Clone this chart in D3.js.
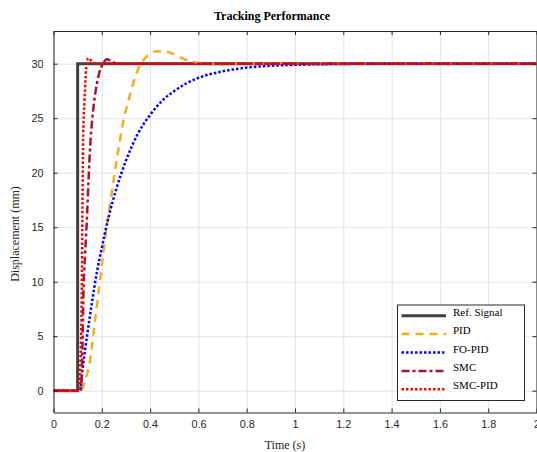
<!DOCTYPE html>
<html>
<head>
<meta charset="utf-8">
<script src="https://cdn.jsdelivr.net/npm/d3@7"></script>
<style>
  body { margin: 0; background: #fff; }
  .tick text { font-family: "Liberation Sans", Arial, sans-serif; font-size: 10.8px; fill: #262626; }
  .axis path, .axis line { stroke: #262626; }
  .grid line { stroke: #e3e3e3; }
  .grid path { display: none; }
</style>
</head>
<body>
<div id="chart"></div>
<script>
// Data
const refT = [0, 0.1, 0.1, 2.0];
const refY = [0, 0, 30, 30];

const pidT = [0, 0.11, 0.12, 0.131, 0.149, 0.168, 0.186, 0.204, 0.22, 0.235, 0.255, 0.276, 0.29, 0.31, 0.33, 0.352, 0.375, 0.40, 0.43, 0.462, 0.49, 0.515, 0.538, 0.57, 0.607, 0.65, 0.7, 0.8, 1.0, 2.0];
const pidY = [0, 0, 0.2, 0.95, 2.5, 5.7, 8.9, 12.2, 15.0, 17.2, 20.2, 23.1, 24.8, 26.6, 28.2, 29.6, 30.4, 30.9, 31.15, 31.15, 30.95, 30.7, 30.45, 30.2, 30.05, 29.97, 29.97, 30.0, 30.0, 30.0];

const fopidT = [0, 0.11, 0.12, 0.14, 0.16, 0.18, 0.2, 0.23, 0.26, 0.3, 0.35, 0.4, 0.45, 0.5, 0.6, 0.7, 0.8, 0.9, 1.0, 1.1, 1.2, 1.4, 2.0];
const fopidY = [0, 0, 1.9, 5.2, 8.2, 10.9, 13.1, 16.1, 18.5, 21.1, 23.6, 25.3, 26.6, 27.5, 28.7, 29.3, 29.64, 29.81, 29.9, 29.95, 29.98, 30.0, 30.0];

const smcT = [0, 0.11, 0.117, 0.12, 0.124, 0.131, 0.138, 0.145, 0.152, 0.16, 0.17, 0.18, 0.19, 0.2, 0.21, 0.22, 0.235, 0.25, 0.27, 0.3, 2.0];
const smcY = [0, 0, 1.3, 4.0, 8.9, 12.6, 15.6, 19.3, 22.5, 24.8, 26.8, 28.2, 29.2, 29.8, 30.2, 30.4, 30.3, 30.1, 30.0, 30.0, 30.0];

const smcpidT = [0, 0.104, 0.108, 0.112, 0.117, 0.12, 0.123, 0.128, 0.133, 0.138, 0.145, 0.155, 0.17, 0.2, 2.0];
const smcpidY = [0, 0, 0.8, 3.0, 8.9, 17.0, 23.5, 26.5, 28.8, 30.2, 30.5, 30.3, 30.05, 30.0, 30.0];

const xTicks = [0, 0.2, 0.4, 0.6, 0.8, 1, 1.2, 1.4, 1.6, 1.8, 2];
const yTicks = [0, 5, 10, 15, 20, 25, 30];

const seriesNames = ["Ref. Signal", "PID", "FO-PID", "SMC", "SMC-PID"];

const series = [
  { name: seriesNames[0], t: refT, y: refY, color: "#404040", width: 3, dash: null, curve: d3.curveLinear },
  { name: seriesNames[1], t: pidT, y: pidY, color: "#EDB120", width: 2.5, dash: "8,6", curve: d3.curveMonotoneX },
  { name: seriesNames[2], t: fopidT, y: fopidY, color: "#0000FF", width: 2.5, dash: "2.5,2", curve: d3.curveMonotoneX },
  { name: seriesNames[3], t: smcT, y: smcY, color: "#A2142F", width: 2.5, dash: "8,3,3,3", curve: d3.curveMonotoneX },
  { name: seriesNames[4], t: smcpidT, y: smcpidY, color: "#FF0000", width: 2.5, dash: "2.5,2", curve: d3.curveMonotoneX }
];

const W = 537, H = 452;
// plot box edges
const box = { left: 53.5, right: 536.5, top: 31, bottom: 412.5 };

const svg = d3.select("#chart").append("svg")
  .attr("width", W).attr("height", H);

const x = d3.scaleLinear().domain([0, 2]).range([box.left, box.right]);
const y = d3.scaleLinear().domain([-2, 33]).range([box.bottom, box.top]);

// grid
svg.append("g").attr("class", "grid")
  .attr("transform", `translate(0,${box.bottom})`)
  .call(d3.axisBottom(x).tickValues(xTicks).tickSize(-(box.bottom - box.top)).tickFormat(""));
svg.append("g").attr("class", "grid")
  .attr("transform", `translate(${box.left},0)`)
  .call(d3.axisLeft(y).tickValues(yTicks).tickSize(-(box.right - box.left)).tickFormat(""));

// lines
svg.append("clipPath").attr("id", "clip")
  .append("rect").attr("x", box.left).attr("y", box.top)
  .attr("width", box.right - box.left).attr("height", box.bottom - box.top);

const plot = svg.append("g").attr("clip-path", "url(#clip)");

series.forEach(s => {
  const pts = s.t.map((t, i) => [t, s.y[i]]);
  const line = d3.line().x(d => x(d[0])).y(d => y(d[1])).curve(s.curve);
  plot.append("path")
    .datum(pts)
    .attr("d", line)
    .attr("fill", "none")
    .attr("stroke", s.color)
    .attr("stroke-width", s.width)
    .attr("stroke-dasharray", s.dash);
});

// axes (ticks inside, box)
svg.append("g").attr("class", "axis")
  .attr("transform", `translate(0,${box.bottom})`)
  .call(d3.axisBottom(x).tickValues(xTicks).tickSizeInner(-4).tickSizeOuter(0).tickPadding(8).tickFormat(d3.format("")));
svg.append("g").attr("class", "axis")
  .attr("transform", `translate(0,${box.top})`)
  .call(d3.axisTop(x).tickValues(xTicks).tickSizeInner(-4).tickSizeOuter(0).tickFormat(""));
svg.append("g").attr("class", "axis")
  .attr("transform", `translate(${box.left},0)`)
  .call(d3.axisLeft(y).tickValues(yTicks).tickSizeInner(-4).tickSizeOuter(0).tickPadding(10));
svg.append("g").attr("class", "axis")
  .attr("transform", `translate(${box.right},0)`)
  .call(d3.axisRight(y).tickValues(yTicks).tickSizeInner(-4).tickSizeOuter(0).tickFormat(""));

// title and labels
svg.append("text")
  .attr("x", 272).attr("y", 20)
  .attr("text-anchor", "middle")
  .style("font-family", "'Liberation Serif', 'Times New Roman', serif")
  .style("font-size", "12px").style("font-weight", "bold").style("fill", "#000")
  .text("Tracking Performance");

svg.append("text")
  .attr("x", 285).attr("y", 449)
  .attr("text-anchor", "middle")
  .style("font-family", "'Liberation Serif', 'Times New Roman', serif")
  .style("font-size", "12px").style("fill", "#262626")
  .text("Time (s)");

svg.append("text")
  .attr("transform", "translate(19,234) rotate(-90)")
  .attr("text-anchor", "middle")
  .style("font-family", "'Liberation Serif', 'Times New Roman', serif")
  .style("font-size", "12px").style("fill", "#262626")
  .text("Displacement (mm)");

// legend
const lg = svg.append("g");
lg.append("rect")
  .attr("x", 397.5).attr("y", 305).attr("width", 127).attr("height", 95.5)
  .attr("fill", "#fff").attr("stroke", "#262626").attr("stroke-width", 1);

series.forEach((s, i) => {
  const ly = 315.7 + i * 18.4;
  lg.append("line")
    .attr("x1", 401.5).attr("x2", 446).attr("y1", ly).attr("y2", ly)
    .attr("stroke", s.color).attr("stroke-width", s.width)
    .attr("stroke-dasharray", s.dash);
  lg.append("text")
    .attr("x", 453).attr("y", ly)
    .attr("dy", "0.0em")
    .style("font-family", "'Liberation Serif', 'Times New Roman', serif")
    .style("font-size", "11px").style("fill", "#000")
    .text(s.name);
});
</script>
</body>
</html>
